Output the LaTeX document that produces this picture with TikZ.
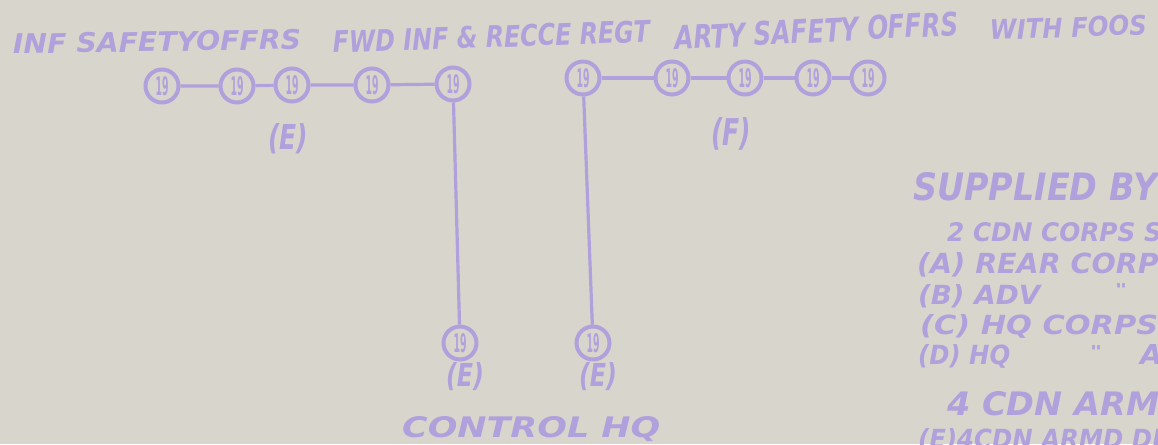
\documentclass[tikz,border=0pt]{standalone}
\usepackage{fontspec}
\usepackage{graphicx}
\newfontfamily\hand{DejaVu Sans}
\definecolor{paper}{RGB}{216,214,204}
\definecolor{ink}{RGB}{176,160,220}
\newcommand{\fitlbl}[3]{\resizebox{#1pt}{#2pt}{\hand\bfseries\itshape #3}}
\newcommand{\num}{\resizebox{13pt}{19pt}{\hand\bfseries 19}}
\begin{document}
\begin{tikzpicture}[x=1pt,y=-1pt,
  set/.style={circle,draw=ink,line width=4pt,minimum size=33pt,inner sep=0pt,text=ink},
  wire/.style={draw=ink,line width=3.2pt},
  lbl/.style={text=ink,inner sep=0pt,anchor=base west}]
\useasboundingbox (0,0) rectangle (1158,444);
\fill[paper] (0,0) rectangle (1158,444);
\begin{scope}
\clip (0,0) rectangle (1158,444);
% top labels
\node[lbl,rotate=1] (t1) at (13,54) {\fitlbl{288}{20}{INF SAFETYOFFRS}};
\node[lbl,rotate=2] (t2) at (333,53) {\fitlbl{317}{22}{FWD INF \& RECCE REGT}};
\node[lbl,rotate=3] (t3) at (675,50) {\fitlbl{284}{24}{ARTY SAFETY OFFRS}};
\node[lbl,rotate=2] (t4) at (990,40) {\fitlbl{157}{20}{WITH FOOS}};
% group E
\node[set] (e1) at (162,86) {\num};
\node[set] (e2) at (237,86) {\num};
\node[set] (e3) at (292,85) {\num};
\node[set] (e4) at (372,85) {\num};
\node[set] (e5) at (453,84) {\num};
\draw[wire] (e1) -- (e2) (e2) -- (e3) (e3) -- (e4) (e4) -- (e5);
\node[lbl,anchor=center] (le) at (288,139) {\fitlbl{40}{26}{(E)}};
% group F
\node[set] (f1) at (583,78) {\num};
\node[set] (f2) at (672,78) {\num};
\node[set] (f3) at (745,78) {\num};
\node[set] (f4) at (813,78) {\num};
\node[set] (f5) at (868,78) {\num};
\draw[wire] (f1) -- (f2) (f2) -- (f3) (f3) -- (f4) (f4) -- (f5);
\node[lbl,anchor=center] (lf) at (731,134) {\fitlbl{40}{28}{(F)}};
% control HQ
\node[set] (c1) at (460,343) {\num};
\node[set] (c2) at (593,343) {\num};
\draw[wire] (e5) -- (c1);
\draw[wire] (f1) -- (c2);
\node[lbl,anchor=center] (lc1) at (465,377) {\fitlbl{38}{24}{(E)}};
\node[lbl,anchor=center] (lc2) at (598,377) {\fitlbl{38}{24}{(E)}};
\node[lbl] (hq) at (402,437) {\fitlbl{258}{21}{CONTROL HQ}};
% right-hand list
\node[lbl] (s0) at (913,200) {\fitlbl{244}{28}{SUPPLIED BY}};
\node[lbl] (s1) at (947,241) {\fitlbl{262}{19}{2 CDN CORPS SIGS}};
\node[lbl] (s2) at (917,273) {\fitlbl{262}{21}{(A) REAR CORPS}};
\node[lbl] (s3) at (918,304) {\fitlbl{122}{20}{(B) ADV}};
\node[lbl] (s3q) at (1115,295) {\fitlbl{12}{12}{"}};
\node[lbl] (s4) at (920,334) {\fitlbl{238}{20}{(C) HQ CORPS}};
\node[lbl] (s5) at (918,364) {\fitlbl{92}{20}{(D) HQ}};
\node[lbl] (s5q) at (1090,357) {\fitlbl{12}{12}{"}};
\node[lbl] (s5a) at (1140,364) {\fitlbl{22}{20}{A}};
\node[lbl] (s6) at (947,415) {\fitlbl{240}{24}{4 CDN ARMD}};
\node[lbl] (s7) at (918,448) {\fitlbl{262}{20}{(E)4CDN ARMD DIV}};
\end{scope}
\end{tikzpicture}
\end{document}
